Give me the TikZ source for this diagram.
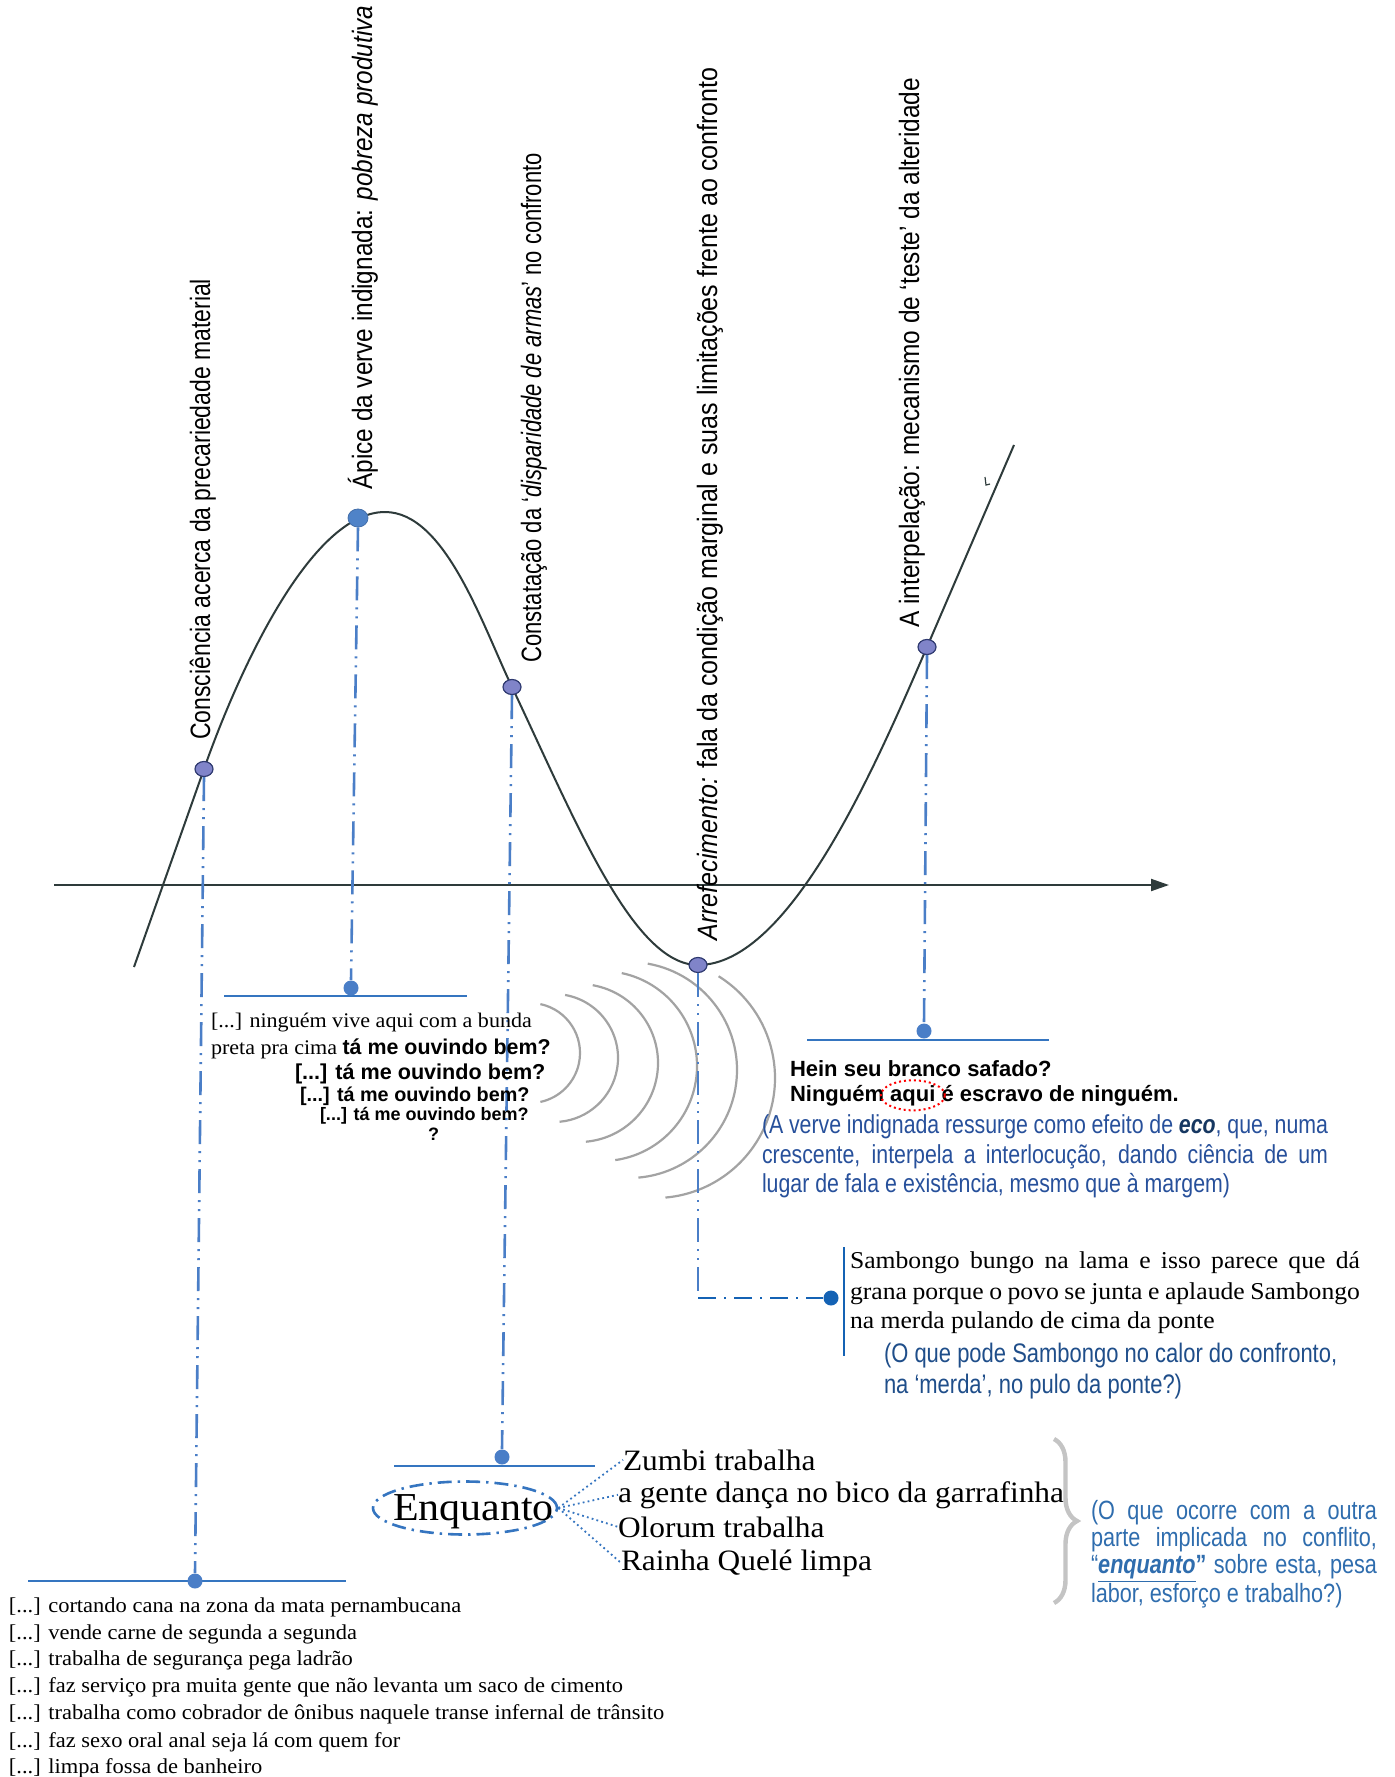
\documentclass[tikz,border=0pt]{standalone}
\usepackage{graphicx}
\usepackage{fontspec}
\setmainfont{Liberation Serif}
\newfontfamily\bookfont[FakeStretch=1.06]{Liberation Serif}
\newfontfamily\condfont[FakeStretch=0.82]{Liberation Sans}
\newfontfamily\plainsans{Liberation Sans}
\usetikzlibrary{arrows.meta,shapes.geometric,calc,decorations.pathreplacing}

\definecolor{curvegray}{HTML}{2E3B3B}
\definecolor{dotfill}{HTML}{8084C9}
\definecolor{dotedge}{HTML}{2F3A70}
\definecolor{peakblue}{HTML}{4F83C8}
\definecolor{guideblue}{HTML}{4A7EC7}
\definecolor{shelfblue}{HTML}{3575C0}
\definecolor{deepblue}{HTML}{1462B4}
\definecolor{notea}{HTML}{27509B}
\definecolor{noteb}{HTML}{1F4E8A}
\definecolor{notec}{HTML}{2F6DAE}
\definecolor{wavegray}{HTML}{A3A3A3}
\definecolor{bracegray}{HTML}{C4C4C4}

\newcommand{\fs}[1]{\fontsize{#1pt}{#1pt}\selectfont}
\newcommand{\widen}[2]{\scalebox{#1}[1]{#2}}

\begin{document}
\begin{tikzpicture}[x=0.5pt,y=-0.5pt,
  txt/.style={anchor=base west,inner sep=0pt,outer sep=0pt},
  serif/.style={txt,font=\bookfont\fs{#1}},
  stagelabel/.style={rotate=90,anchor=base west,inner sep=0pt,font=\condfont\fs{14}},
  curvedot/.style={ellipse,draw=dotedge,fill=dotfill,line width=0.6pt,minimum width=9pt,minimum height=7.5pt,inner sep=0pt},
  peakdot/.style={ellipse,draw=peakblue!85!black,fill=peakblue,line width=0.4pt,minimum width=10pt,minimum height=9pt,inner sep=0pt},
  enddot/.style={circle,fill=guideblue,minimum size=7.5pt,inner sep=0pt},
  guide/.style={draw=guideblue,line width=1.3pt,dash pattern=on 12pt off 3.5pt on 1pt off 3.5pt on 1pt off 3.5pt},
  deepguide/.style={draw=deepblue,line width=1.4pt,dash pattern=on 9pt off 4pt on 1pt off 4pt},
  shelf/.style={draw=shelfblue,line width=1.4pt},
  wave/.style={draw=wavegray,line width=1.1pt},
  tiedot/.style={draw=shelfblue,line width=0.9pt,dash pattern=on 0.9pt off 1.6pt},
  notefont/.style={txt,font=\condfont\fs{#1}}
]
\fill[white] (0,0) rectangle (1395,1777);
\useasboundingbox (0,0) rectangle (1395,1777);

% horizontal axis
\coordinate (axl) at (54,885);
\coordinate (axr) at (1169,885);
\draw[curvegray,line width=1pt,-{Triangle[length=9pt,width=6pt]}] (axl) -- (axr);

% the oscillating curve
\draw[curvegray,line width=1pt] (134,967) -- (204,769)
  .. controls (237,675) and (310,512) .. (385,512)
  .. controls (445,512) and (482,624) .. (512,687)
  .. controls (576,822) and (633,965) .. (698,965)
  .. controls (790,965) and (875.5,766) .. (927,647) -- (1014,445);
\draw[curvegray,line width=0.6pt] (985,477) -- (986,485) -- (990,484);

% echo waves under the lowest point
\foreach \cx/\cy/\r/\ta/\tb in {530/1053/25/78/78, 554/1058/32/80/85, 579/1063/39.5/80/85,
                                 602/1066/47.5/78/82, 629/1070/54/80/85, 655/1078/60/58/85}
  \draw[wave] ($(\cx,\cy)+(\ta:\r pt)$) arc[start angle=\ta,end angle=-\tb,radius=\r pt];

% stage labels
\node[stagelabel] (l1) at (210,740) {Consciência acerca da precariedade material};
\node[stagelabel] (l2) at (372,490) {\widen{1.06}{Ápice da verve indignada: \textit{pobreza produtiva}}};
\node[stagelabel] (l3) at (541,663) {\widen{0.957}{Constatação da ‘\textit{disparidade de armas}’ no confronto}};
\node[stagelabel] (l4) at (717,941) {\widen{1.09}{\textit{Arrefecimento:} fala da condição marginal e suas limitações frente ao confronto}};
\node[stagelabel] (l5) at (919,628) {\widen{1.064}{A interpelação: mecanismo de ‘teste’ da alteridade}};

% points on the curve
\node[curvedot] (d1) at (204,769) {};
\node[peakdot]  (d2) at (358,518) {};
\node[curvedot] (d3) at (512,687) {};
\node[curvedot] (d4) at (698,965) {};
\node[curvedot] (d5) at (927,647) {};

% shelves with their end dots
\draw[shelf] (28,1581) -- (346,1581);
\draw[shelf] (224,996) -- (467,996);
\draw[shelf] (394,1466) -- (595,1466);
\draw[shelf] (807,1040) -- (1049,1040);
\draw[draw=deepblue,line width=1pt] (844,1247) -- (844,1356);
\node[enddot] (e1) at (195,1581) {};
\node[enddot] (e2) at (351,988) {};
\node[enddot] (e3) at (502,1457) {};
\node[enddot,fill=deepblue] (e4) at (831,1298) {};
\node[enddot] (e5) at (924,1031) {};

% guides from each point
\draw[guide] (d1.south) -- (e1.north);
\draw[guide] (d2.south) -- (e2.north);
\draw[guide] (d3.south) -- (e3.north);
\coordinate (turn) at (d4.south |- e4.west);
\draw[guide] (d4.south) -- (turn);
\draw[deepguide] (turn) -- (e4.west);
\draw[guide] (d5.south) -- (e5.north);

% block under the apex
\node[serif=10.4] (a1) at (211,1027) {[...] ninguém vive aqui com a bunda};
\node[serif=10.4] (a2) at (211,1054) {preta pra cima {\plainsans\bfseries\fs{10.7}tá me ouvindo bem?}};
\node[txt,font=\plainsans\bfseries\fs{10.8}] (a3) at (295,1079) {[...] tá me ouvindo bem?};
\node[txt,font=\plainsans\bfseries\fs{9.9}] (a4) at (300,1101) {[...] tá me ouvindo bem?};
\node[txt,font=\plainsans\bfseries\fs{9}] (a5) at (320,1120) {[...] tá me ouvindo bem?};
\node[txt,font=\plainsans\bfseries\fs{9}] (a6) at (428,1140) {?};

% block under the interpellation
\node[txt,font=\plainsans\bfseries\fs{11}] (b1) at (790,1076) {Hein seu branco safado?};
\node[txt,font=\plainsans\bfseries\fs{11}] (b2) at (790,1101) {Ninguém};
\node[txt,font=\plainsans\bfseries\fs{11}] (b3) at ([xshift=3.06pt]b2.base east) {aqui};
\node[txt,font=\plainsans\bfseries\fs{11}] (b4) at ([xshift=3.06pt]b3.base east) {é escravo de ninguém.};
\draw[red,line width=1pt,dash pattern=on 1pt off 1.5pt] (b3.center) ellipse [x radius=16pt,y radius=7.5pt];
\node[notefont=13,text=notea] (n1) at (762,1133) {\makebox[283pt][s]{(A verve indignada ressurge como efeito de {\color{noteb!70!black}\textbf{\textit{eco}}}, que, numa}};
\node[notefont=13,text=notea] (n2) at (762,1163) {\makebox[283pt][s]{crescente, interpela a interlocução, dando ciência de um}};
\node[notefont=13,text=notea] (n3) at (762,1192) {lugar de fala e existência, mesmo que à margem)};

% Sambongo block
\node[serif=12.1] (s1) at (850,1268) {\makebox[255pt][s]{Sambongo bungo na lama e isso parece que dá}};
\node[serif=12.1] (s2) at (850,1299) {\makebox[255pt][s]{grana porque o povo se junta e aplaude Sambongo}};
\node[serif=12.1] (s3) at (850,1328) {na merda pulando de cima da ponte};
\node[notefont=13.4,text=noteb] (q1) at (884,1362) {(O que pode Sambongo no calor do confronto,};
\node[notefont=13.4,text=noteb] (q2) at (884,1393) {na ‘merda’, no pulo da ponte?)};

% Enquanto block
\node[ellipse,draw=shelfblue,line width=1.3pt,dash pattern=on 7pt off 3pt on 1.2pt off 3pt,
      minimum width=92pt,minimum height=26.5pt,inner sep=0pt] (ring) at (465,1508) {};
\node[serif=19.8] (enq) at (393,1520) {Enquanto};
\node[serif=14.8] (z1) at (623,1470) {Zumbi trabalha};
\node[serif=14.8] (z2) at (618,1502) {a gente dança no bico da garrafinha};
\node[serif=14.8] (z3) at (618,1537) {Olorum trabalha};
\node[serif=14.8] (z4) at (621,1570) {Rainha Quelé limpa};
\foreach \k in {z1,z2,z3,z4}
  \draw[tiedot] (ring.east) -- (\k.west);
\draw[bracegray,line width=2.2pt,decorate,decoration={brace,amplitude=11.5pt}] (1054,1439) -- (1054,1603);
\node[notefont=13.2,text=notec] (r1) at (1091,1519) {\makebox[143pt][s]{(O que ocorre com a outra}};
\node[notefont=13.2,text=notec] (r2) at (1091,1546) {\makebox[143pt][s]{parte implicada no conflito,}};
\node[notefont=13.2,text=notec] (r3) at (1091,1573) {\makebox[143pt][s]{“\textbf{\textit{\underline{enquanto}}”} sobre esta, pesa}};
\node[notefont=13.2,text=notec] (r4) at (1091,1602) {labor, esforço e trabalho?)};

% list under the first point
\node[serif=10.6] (w1) at (9,1612) {[...] cortando cana na zona da mata pernambucana};
\node[serif=10.6] (w2) at (9,1639) {[...] vende carne de segunda a segunda};
\node[serif=10.6] (w3) at (9,1665) {[...] trabalha de segurança pega ladrão};
\node[serif=10.6] (w4) at (9,1692) {[...] faz serviço pra muita gente que não levanta um saco de cimento};
\node[serif=10.6] (w5) at (9,1719) {[...] trabalha como cobrador de ônibus naquele transe infernal de trânsito};
\node[serif=10.6] (w6) at (9,1747) {[...] faz sexo oral anal seja lá com quem for};
\node[serif=10.6] (w7) at (9,1773) {[...] limpa fossa de banheiro};
\end{tikzpicture}
\end{document}
